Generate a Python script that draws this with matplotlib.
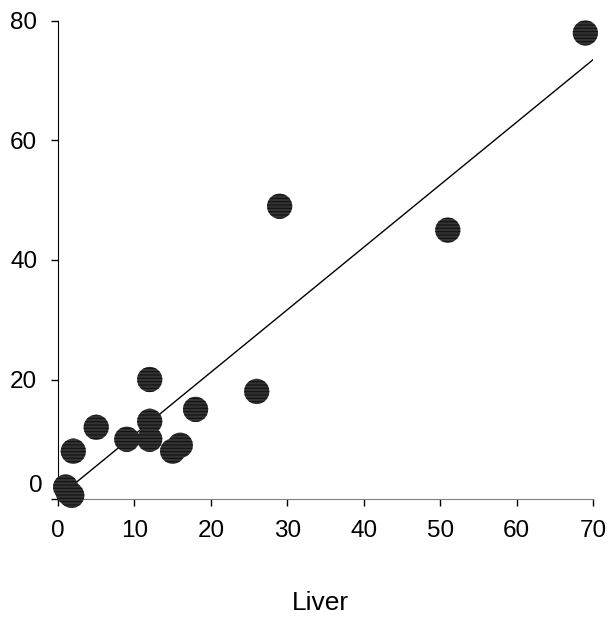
import numpy as np
import matplotlib
matplotlib.use("Agg")
import matplotlib.pyplot as plt

# values
liver = [69, 29, 51, 12, 26, 18, 5, 12, 9, 12, 16, 15, 2, 1, 1.3, 1.6, 1.8]
other = [78, 49, 45, 20, 18, 15, 12, 13, 10, 10, 9, 8, 8, 2, 1.2, 0.8, 0.6]
xticks = [0, 10, 20, 30, 40, 50, 60, 70]
yticks = [0, 20, 40, 60, 80]

plt.rcParams['font.family'] = ['Liberation Sans', 'DejaVu Sans']
plt.rcParams['hatch.linewidth'] = 0.8

fig = plt.figure(figsize=(6.16, 6.22), dpi=100)
ax = fig.add_axes([58 / 616, 1 - 499 / 622, 535 / 616, 478 / 622])

ax.scatter(liver, other, s=330, facecolor='#333333', edgecolor='#111111',
           linewidths=0, hatch='-----', zorder=3, clip_on=False)

# linear trendline
k, b = np.polyfit(liver, other, 1)
xs = np.array([0, 70])
ax.plot(xs, k * xs + b, color='black', lw=1, zorder=2)

ax.set_xlim(0, 70)
ax.set_ylim(0, 80)
ax.set_xticks(xticks)
ax.set_yticks(yticks)
ax.set_yticklabels([''] + [str(v) for v in yticks[1:]])
ax.text(-15 / 535, 13 / 478, '0', transform=ax.transAxes, ha='right',
        va='center', fontsize=17.5)

for s in ['top', 'right']:
    ax.spines[s].set_visible(False)
ax.spines['bottom'].set_color('#808080')
ax.spines['left'].set_color('black')
ax.tick_params(axis='both', direction='out', length=5, width=1,
               labelsize=17.5)
ax.tick_params(axis='x', pad=10, color='black')
ax.tick_params(axis='y', pad=10)

fig.text(320 / 616, 1 - 603 / 622, 'Liver', ha='center', va='center',
         fontsize=19)

fig.savefig('out.png', dpi=100)
